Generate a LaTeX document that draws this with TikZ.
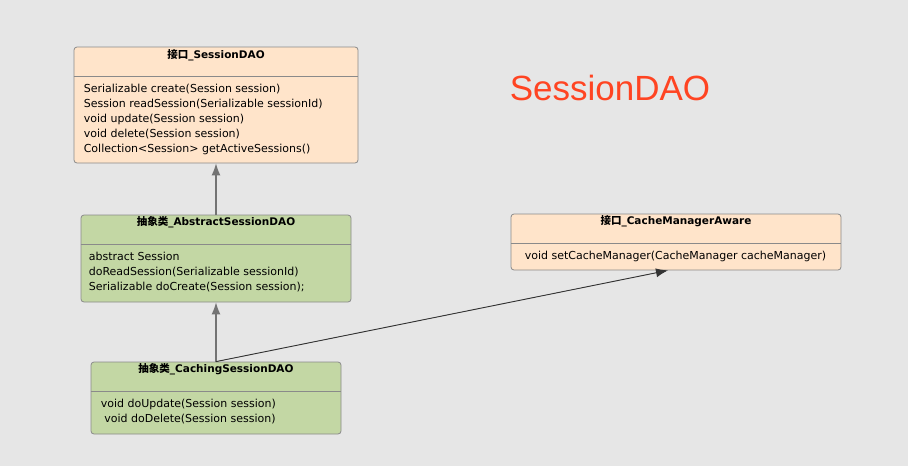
\documentclass[tikz,border=0pt]{standalone}
\usepackage{fontspec}
\setmainfont{DejaVu Sans}
\newfontfamily\headfont{Liberation Sans}
\newfontfamily\cjk{Noto Sans CJK SC}
\usetikzlibrary{positioning,arrows.meta}
\definecolor{bgGray}{HTML}{E6E6E6}
\definecolor{ifacePeach}{HTML}{FFE4CA}
\definecolor{absGreen}{HTML}{C3D7A4}
\definecolor{edgeGray}{HTML}{8A8A8A}
\definecolor{headRed}{HTML}{FF4422}
\tikzset{classbox/.style={draw=edgeGray,rounded corners=3pt,line width=0.8pt,inner sep=0pt},
  classtitle/.style={font=\fontsize{10.5}{13}\selectfont\bfseries,inner sep=0pt},
  members/.style={font=\fontsize{11}{15}\selectfont,align=left,inner sep=0pt,anchor=north west},
  inherit/.style={-{Latex[length=12pt,width=9pt]},line width=1.2pt,draw=black!55,fill=black!75},
  assoc/.style={-{Latex[length=12pt,width=9pt]},line width=0.9pt,draw=black!80,fill=black!75}}

\begin{document}
\begin{tikzpicture}[x=1pt,y=-1pt]
    \fill[bgGray] (0,0) rectangle (908,466);
    \useasboundingbox (0,0) rectangle (908,466);
    % class boxes
    \node[classbox,fill=ifacePeach,minimum width=284pt,minimum height=116pt] (sdao) at (216,105) {};
    \node[classbox,fill=absGreen,minimum width=270pt,minimum height=87pt] (absdao) at (216,258.5) {};
    \node[classbox,fill=absGreen,minimum width=250pt,minimum height=72pt] (cachdao) at (216,398) {};
    \node[classbox,fill=ifacePeach,minimum width=330pt,minimum height=56pt] (cma) at (676,242) {};
    \foreach \c in {sdao,absdao,cachdao,cma}
        \draw[edgeGray,line width=0.8pt] ([yshift=-30pt]\c.north west) -- ([yshift=-30pt]\c.north east);
    % titles
    \node[classtitle] (sdaoT) at ([yshift=-9pt]sdao.north) {{\cjk 接口}\_SessionDAO};
    \node[classtitle] (absdaoT) at ([yshift=-8pt]absdao.north) {{\cjk 抽象类}\_AbstractSessionDAO};
    \node[classtitle] (cachdaoT) at ([yshift=-8pt]cachdao.north) {{\cjk 抽象类}\_CachingSessionDAO};
    \node[classtitle] (cmaT) at ([yshift=-8pt]cma.north) {{\cjk 接口}\_CacheManagerAware};
    % members
    \node[members] (sdaoM) at ([xshift=10pt,yshift=-37pt]sdao.north west)
        {Serializable create(Session session)\\Session readSession(Serializable sessionId)\\void update(Session session)\\void delete(Session session)\\Collection<Session> getActiveSessions()};
    \node[members] (absdaoM) at ([xshift=8pt,yshift=-37pt]absdao.north west)
        {abstract Session\\doReadSession(Serializable sessionId)\\Serializable doCreate(Session session);};
    \node[members] (cachdaoM) at ([xshift=10pt,yshift=-37pt]cachdao.north west)
        {void doUpdate(Session session)\\\ void doDelete(Session session)};
    \node[members] (cmaM) at ([xshift=14pt,yshift=-37pt]cma.north west)
        {void setCacheManager(CacheManager cacheManager)};
    \node[font=\headfont\fontsize{35}{40}\selectfont,text=headRed,inner sep=0pt] (heading) at (610,88) {SessionDAO};
    % relations
    \coordinate (cmaTip) at ([xshift=-8pt]cma.south);
    \draw[inherit] (absdao.north) -- (sdao.south);
    \draw[inherit] (cachdao.north) -- (absdao.south);
    \draw[assoc] (cachdao.north) -- (cmaTip);
\end{tikzpicture}
\end{document}
